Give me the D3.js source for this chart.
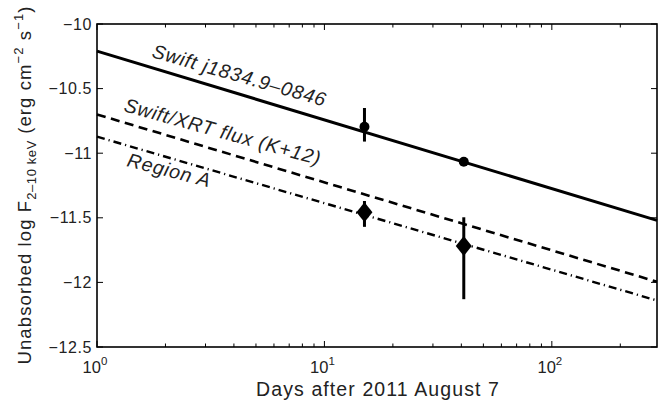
<!DOCTYPE html>
<html><head><meta charset="utf-8">
<script src="https://cdn.jsdelivr.net/npm/d3@7/dist/d3.min.js"></script>
<style>
body{margin:0;background:#fff;}
text{font-family:"Liberation Sans",Arial,Helvetica,sans-serif;fill:#222;}
</style></head>
<body><svg id="c" width="658" height="406"></svg>
<script>
// ---- data ----
const obsDays = [15, 41];
const swiftFlux = [-10.795, -11.066];
const swiftLo = [-10.91, -11.08];
const swiftHi = [-10.65, -11.05];
const regionFlux = [-11.457, -11.718];
const regionLo = [-11.57, -12.13];
const regionHi = [-11.37, -11.496];
const modelDays = [1, 290];
const swiftModel = [-10.21, -11.52];
const xrtModel = [-10.70, -11.995];
const regionModel = [-10.872, -12.14];
const yTicks = [-12.5, -12, -11.5, -11, -10.5, -10];
const yTickLabels = ["\u221212.5", "\u221212", "\u221211.5", "\u221211", "\u221210.5", "\u221210"];
const xMajor = [1, 10, 100];
const xMajorExp = ["0", "1", "2"];
const labels = ["Swift j1834.9\u20130846", "Swift/XRT flux (K+12)", "Region A"];

// ---- layout ----
const svg = d3.select("#c");
const L = 97, R = 657, T = 24, B = 347;
const x = d3.scaleLog().domain([1, 290]).range([L, R]);
const y = d3.scaleLinear().domain([-12.5, -10]).range([B, T]);

const g = svg.append("g");

// model lines
const line = d3.line().x(d => x(d[0])).y(d => y(d[1]));
const models = [
  {v: swiftModel, dash: null, w: 3},
  {v: xrtModel, dash: "9,5.5", w: 2.6},
  {v: regionModel, dash: "8,4,1.2,4", w: 2.4}
];
models.forEach(m => {
  g.append("path").datum(modelDays.map((d, i) => [d, m.v[i]]))
   .attr("d", line).attr("fill", "none").attr("stroke", "#000")
   .attr("stroke-width", m.w).attr("stroke-dasharray", m.dash);
});

// error bars
obsDays.forEach((d, i) => {
  g.append("line").attr("x1", x(d)).attr("x2", x(d)).attr("y1", y(swiftLo[i])).attr("y2", y(swiftHi[i]))
   .attr("stroke", "#000").attr("stroke-width", 3);
  g.append("line").attr("x1", x(d)).attr("x2", x(d)).attr("y1", y(regionLo[i])).attr("y2", y(regionHi[i]))
   .attr("stroke", "#000").attr("stroke-width", 3);
});
// circles
g.selectAll("circle.s").data(obsDays).enter().append("circle")
 .attr("cx", d => x(d)).attr("cy", (d, i) => y(swiftFlux[i])).attr("r", 5).attr("fill", "#000");
// diamonds
const diamond = {draw(ctx, size) { const w = 8, h = 10; ctx.moveTo(0, -h); ctx.lineTo(w, 0); ctx.lineTo(0, h); ctx.lineTo(-w, 0); ctx.closePath(); }};
g.selectAll("path.d").data(obsDays).enter().append("path")
 .attr("d", d3.symbol().type(diamond)())
 .attr("transform", (d, i) => `translate(${x(d)},${y(regionFlux[i])})`).attr("fill", "#000");

// frame
svg.append("rect").attr("x", L).attr("y", T).attr("width", R - L).attr("height", B - T)
 .attr("fill", "none").attr("stroke", "#000").attr("stroke-width", 1.6);

// x ticks (inward, bottom & top)
const minor = [];
[1, 10, 100].forEach(dec => { for (let k = 2; k <= 9; k++) { const v = k * dec; if (v <= 290) minor.push(v); } });
function xt(vals, len) {
  vals.forEach(v => {
    svg.append("line").attr("x1", x(v)).attr("x2", x(v)).attr("y1", B).attr("y2", B - len).attr("stroke", "#000").attr("stroke-width", 1);
    svg.append("line").attr("x1", x(v)).attr("x2", x(v)).attr("y1", T).attr("y2", T + len).attr("stroke", "#000").attr("stroke-width", 1);
  });
}
xt(xMajor, 6); xt(minor, 3.5);
yTicks.forEach(v => {
  svg.append("line").attr("x1", L).attr("x2", L + 6).attr("y1", y(v)).attr("y2", y(v)).attr("stroke", "#000");
  svg.append("line").attr("x1", R).attr("x2", R - 6).attr("y1", y(v)).attr("y2", y(v)).attr("stroke", "#000");
});

// tick labels
yTicks.forEach((v, i) => {
  svg.append("text").attr("x", 92).attr("y", y(v) + 5.5).attr("text-anchor", "end")
   .attr("font-size", 16).attr("letter-spacing", 0.6).text(yTickLabels[i]);
});
xMajor.forEach((v, i) => {
  const t = svg.append("text").attr("x", x(v) - 2).attr("y", 373).attr("text-anchor", "middle").attr("font-size", 16.5);
  t.append("tspan").text("10");
  t.append("tspan").attr("dy", -8).attr("font-size", 11.5).text(xMajorExp[i]);
});

// axis titles
svg.append("text").attr("x", 378).attr("y", 396).attr("text-anchor", "middle").attr("font-size", 19.5)
 .attr("letter-spacing", 1.1).text("Days after 2011 August 7");
const yl = svg.append("text").attr("transform", "translate(31,185) rotate(-90)").attr("text-anchor", "middle")
 .attr("font-size", 18.5).attr("letter-spacing", 1.1);
yl.append("tspan").text("Unabsorbed log F");
yl.append("tspan").attr("dy", 5).attr("font-size", 13).attr("letter-spacing", 0.6).text("2\u201310 keV");
yl.append("tspan").attr("dy", -5).text(" (erg cm");
yl.append("tspan").attr("dy", -8).attr("font-size", 13).text("\u22122");
yl.append("tspan").attr("dy", 8).text(" s");
yl.append("tspan").attr("dy", -8).attr("font-size", 13).text("\u22121");
yl.append("tspan").attr("dy", 8).text(")");

// in-plot labels
const lab = [[151, 57, 16], [123, 111, 15.5], [126, 166, 14.5]];
labels.forEach((s, i) => {
  svg.append("text").attr("transform", `translate(${lab[i][0]},${lab[i][1]}) rotate(${lab[i][2]})`)
   .attr("font-size", 19.5).attr("letter-spacing", 0.8).attr("font-style", "italic").text(s);
});
</script></body></html>
